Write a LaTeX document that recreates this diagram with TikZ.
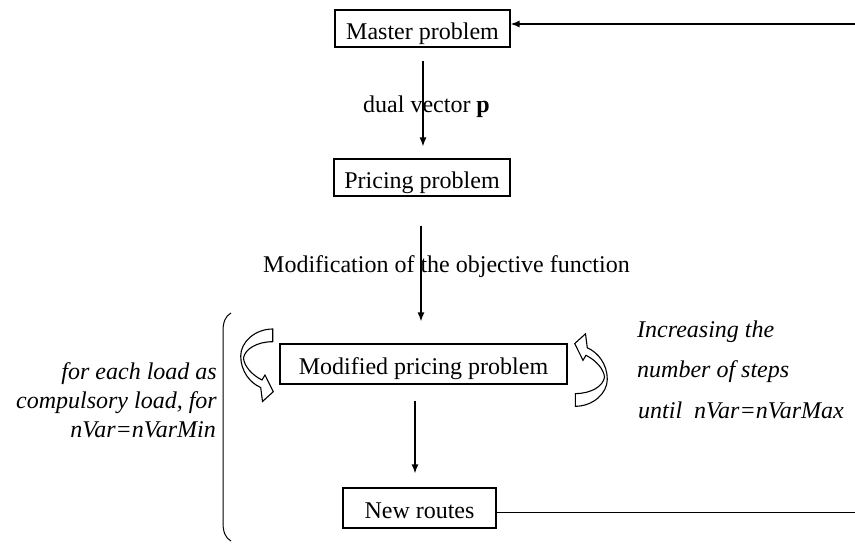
\documentclass[tikz,border=0pt]{standalone}
\usepackage{fontspec}
\setmainfont{Liberation Serif}
\usetikzlibrary{arrows.meta}
\newcommand\diagfont{\fontsize{24}{29}\selectfont}
\newcommand\curvarrpath{(272.7,329) .. controls (255,329) and (240.7,342) .. (240.7,356)
    .. controls (240.7,371) and (250,383) .. (260.7,387.5)
    -- (262.5,401.5) -- (273.3,391.7) -- (265,375) -- (262,380)
    .. controls (252,375) and (244,366) .. (243.5,358)
    .. controls (245,349) and (257,341.7) .. (272.7,341.7) -- cycle}
\begin{document}
\begin{tikzpicture}[x=1pt,y=-1pt,
  box/.style={draw, line width=1.1pt, inner sep=0pt, text height=22pt, text depth=1pt, font=\diagfont},
  lbl/.style={inner sep=0pt, font=\diagfont},
  ilbl/.style={inner sep=0pt, font=\diagfont\itshape},
  arr/.style={line width=1.5pt, -{Latex[length=9pt,width=7pt]}},
  plain/.style={line width=1.5pt},
  bendarrow/.style={draw, line width=1.1pt, fill=white, line join=miter}
]
\fill[white] (0,0) rectangle (855,544);
\useasboundingbox (0,0) rectangle (855,544);

% boxes
\node[box, minimum width=175pt, minimum height=37pt] (master) at (422.5,28.5) {Master problem};
\node[box, minimum width=176pt, minimum height=37pt] (pricing) at (422,177.5) {Pricing problem};
\node[box, minimum width=287pt, minimum height=40pt] (modified) at (423.5,364) {Modified pricing problem};
\node[box, minimum width=153pt, minimum height=40pt] (routes) at (419.5,508) {New routes};

% labels
\node[lbl, anchor=base west] (dual) at (363,112) {dual vector \textbf{p}};
\node[lbl, anchor=base west] (modif) at (263,272) {Modification of the objective function};

\node[ilbl, anchor=base east] (lt1) at (217,379) {for each load as};
\node[ilbl, anchor=base east] (lt2) at (217,408) {compulsory load, for};
\node[ilbl, anchor=base east] (lt3) at (216,437) {nVar=nVarMin};

\node[ilbl, anchor=base west] (rt1) at (637,337) {Increasing the};
\node[ilbl, anchor=base west] (rt2) at (637,377.5) {number of steps};
\node[ilbl, anchor=base west] (rt3) at (638,418) {until\ \ nVar=nVarMax};

% vertical arrows
\draw[arr] ([xshift=0.5pt,yshift=-13pt]master.south) -- ([xshift=1pt,yshift=12pt]pricing.north);
\draw[arr] ([xshift=-1pt,yshift=-29pt]pricing.south) -- ([xshift=-2.5pt,yshift=22pt]modified.north);
\draw[arr] ([xshift=-8.5pt,yshift=-16pt]modified.south) -- ([xshift=-4.5pt,yshift=14pt]routes.north);

% feedback loop
\coordinate (rb) at (855,512.7);
\coordinate (rt) at (855,24);
\draw[plain] (routes.east |- rb) -- (rb);
\draw[arr] (rt) -- (master.east |- rt);

% bracket
\draw[line width=1pt] (231,313) .. controls (225.5,316) and (223,322) .. (223,331)
  -- (223,523) .. controls (223,532) and (225.5,538) .. (231,541);

% curved arrows
\path[bendarrow] \curvarrpath;
\begin{scope}[shift={(848,735.3)}, rotate=180]
  \path[bendarrow] \curvarrpath;
\end{scope}
\end{tikzpicture}
\end{document}
